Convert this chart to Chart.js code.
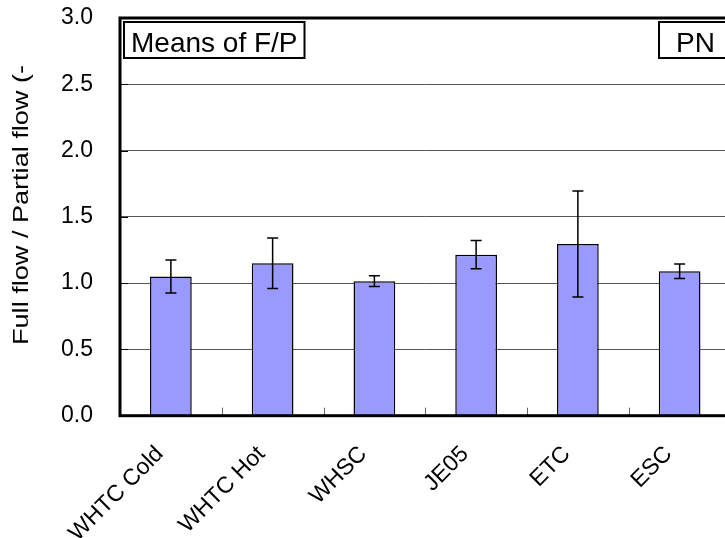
<!DOCTYPE html>
<html>
<head>
<meta charset="utf-8">
<script src="https://cdn.jsdelivr.net/npm/chart.js@4.4.0/dist/chart.umd.min.js"></script>
<style>
  html, body { margin: 0; padding: 0; background: #fff; overflow: hidden; }
  #wrap { width: 760px; height: 538px; }
</style>
</head>
<body>
<div id="wrap"><canvas id="fp-chart" width="760" height="538"></canvas></div>
<script>
// Full flow / partial flow ratio per test cycle, mean and standard deviation
const cycles    = ['WHTC Cold', 'WHTC Hot', 'WHSC', 'JE05', 'ETC', 'ESC'];
const meanRatio = [1.05, 1.15, 1.015, 1.215, 1.295, 1.09];
const ratioSd   = [0.125, 0.19, 0.04, 0.107, 0.40, 0.055];
const yTicks    = [0, 0.5, 1.0, 1.5, 2.0, 2.5, 3.0];

const FONT = '"Liberation Sans", Arial, sans-serif';

// Error bars (mean +/- sd) on top of the bars
const errorBars = {
  id: 'errorBars',
  afterDatasetsDraw(chart) {
    const { ctx, scales: { x, y } } = chart;
    ctx.save();
    ctx.strokeStyle = '#000';
    ctx.lineWidth = 1.5;
    meanRatio.forEach((m, i) => {
      const px = x.getPixelForValue(i);
      const top = y.getPixelForValue(m + ratioSd[i]);
      const bot = y.getPixelForValue(m - ratioSd[i]);
      ctx.beginPath();
      ctx.moveTo(px, top); ctx.lineTo(px, bot);
      ctx.moveTo(px - 5.5, top); ctx.lineTo(px + 5.5, top);
      ctx.moveTo(px - 5.5, bot); ctx.lineTo(px + 5.5, bot);
      ctx.stroke();
    });
    ctx.restore();
  }
};

// Plot frame, inner tick marks, boxed captions and the y title
const decorations = {
  id: 'decorations',
  afterDraw(chart) {
    const { ctx, chartArea: a, scales: { x, y } } = chart;
    ctx.save();

    // small ticks pointing into the plot
    ctx.lineWidth = 1;
    ctx.strokeStyle = '#000';
    yTicks.forEach(v => {
      const py = Math.round(y.getPixelForValue(v)) + 0.5;
      ctx.beginPath(); ctx.moveTo(a.left, py); ctx.lineTo(a.left + 8, py); ctx.stroke();
    });
    ctx.strokeStyle = '#666';
    for (let i = 0; i < cycles.length; i++) {
      const px = Math.round((x.getPixelForValue(i) + x.getPixelForValue(i + 1)) / 2) + 0.5;
      ctx.beginPath(); ctx.moveTo(px, a.bottom - 8); ctx.lineTo(px, a.bottom); ctx.stroke();
    }

    // heavy frame
    ctx.strokeStyle = '#000';
    ctx.lineWidth = 3;
    ctx.strokeRect(a.left, a.top, a.right - a.left, a.bottom - a.top);

    // boxed captions
    ctx.font = '28px ' + FONT;
    ctx.textBaseline = 'alphabetic';
    ctx.textAlign = 'left';
    const box = (text, bx, w, padL) => {
      ctx.fillStyle = '#fff';
      ctx.fillRect(bx, 22, w, 36);
      ctx.lineWidth = 2;
      ctx.strokeRect(bx, 22, w, 36);
      ctx.fillStyle = '#000';
      ctx.fillText(text, bx + padL, 52);
    };
    const capW = ctx.measureText('Means of F/P').width;
    box('Means of F/P', 124, capW + 14, 7);
    box('PN', 659, 74, 17);

    // y title, slightly stretched along its length
    ctx.font = '22px ' + FONT;
    const title = 'Full flow / Partial flow (-';
    const tw = ctx.measureText(title).width;
    ctx.translate(28, 345);
    ctx.rotate(-Math.PI / 2);
    ctx.scale(280 / tw, 1);
    ctx.fillText(title, 0, 0);

    ctx.restore();
  }
};

new Chart(document.getElementById('fp-chart'), {
  type: 'bar',
  data: {
    labels: cycles,
    datasets: [{
      label: 'F/P',
      data: meanRatio,
      backgroundColor: '#9999ff',
      borderColor: '#000',
      borderWidth: 1.5,
      barPercentage: 0.41,
      categoryPercentage: 1.0
    }]
  },
  options: {
    responsive: false,
    animation: false,
    devicePixelRatio: 1,
    layout: { padding: { top: 18, right: 29.5, left: 0, bottom: 0 } },
    plugins: {
      legend: { display: false },
      tooltip: { enabled: false }
    },
    scales: {
      x: {
        offset: true,
        grid: { display: false, drawTicks: false },
        border: { display: false },
        ticks: {
          color: '#000',
          font: { family: FONT, size: 23 },
          minRotation: 45,
          maxRotation: 45,
          autoSkip: false,
          padding: 25,
          labelOffset: -11
        },
        afterFit: s => {
          s.height = 122.3;
          s.paddingLeft = 0;
          s.paddingRight = 0;
        }
      },
      y: {
        min: 0,
        max: 3,
        afterBuildTicks: s => { s.ticks = yTicks.map(v => ({ value: v })); },
        grid: { color: '#555', lineWidth: 1, drawTicks: false },
        border: { display: false },
        ticks: {
          color: '#000',
          font: { family: FONT, size: 23 },
          padding: 27,
          callback: v => v.toFixed(1)
        },
        afterFit: s => {
          s.width = 120;
          s.paddingTop = 0;
          s.paddingBottom = 0;
        }
      }
    }
  },
  plugins: [errorBars, decorations]
});
</script>
</body>
</html>
